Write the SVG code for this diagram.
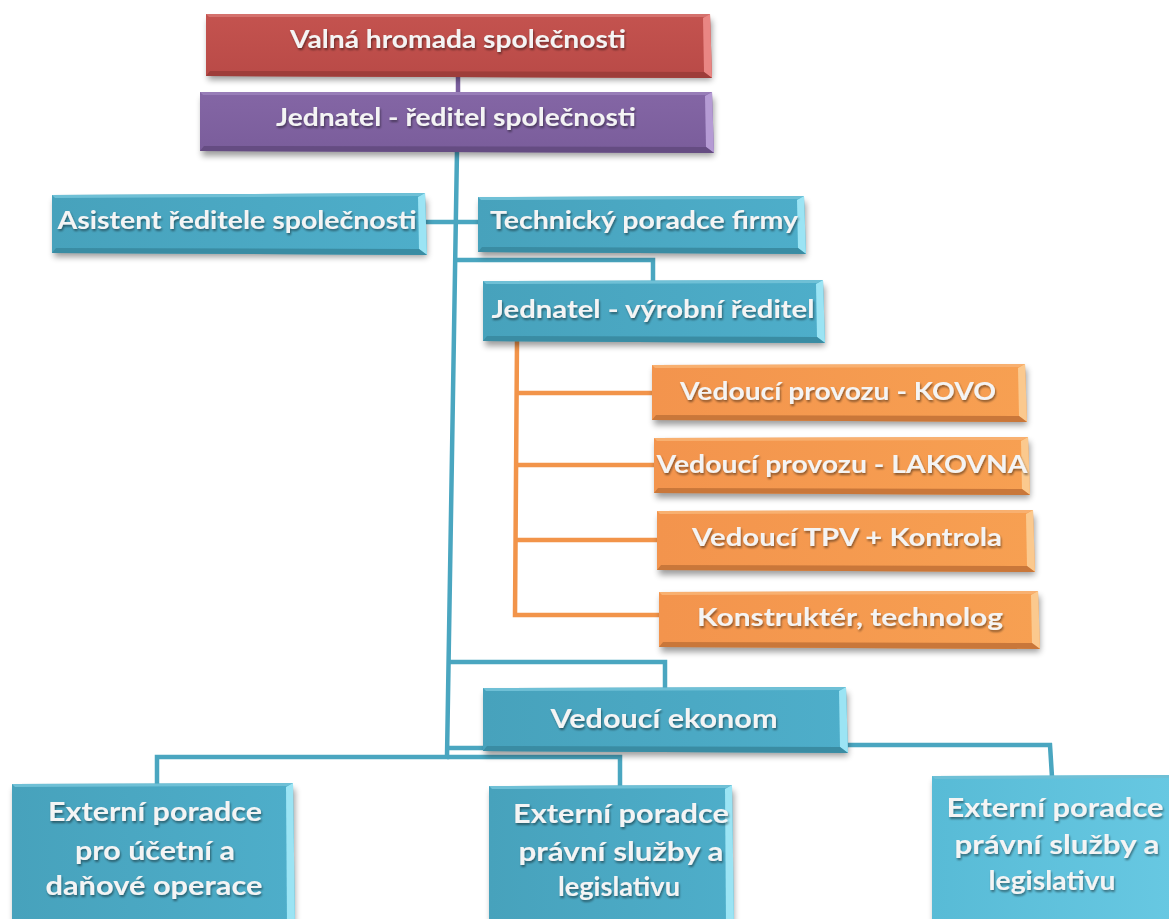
<svg xmlns="http://www.w3.org/2000/svg" width="1169" height="919" viewBox="0 0 1169 919">
  <defs>
    <filter id="shadow" x="-10%" y="-30%" width="120%" height="170%">
      <feGaussianBlur stdDeviation="3"/>
    </filter>
    <filter id="tshadow" x="-5%" y="-30%" width="110%" height="160%">
      <feGaussianBlur in="SourceAlpha" stdDeviation="1"/>
      <feOffset dx="1" dy="1.5" result="o"/>
      <feComponentTransfer><feFuncA type="linear" slope="0.45"/></feComponentTransfer>
      <feMerge><feMergeNode/><feMergeNode in="SourceGraphic"/></feMerge>
    </filter>
    <linearGradient id="gRed" x1="0" y1="0" x2="0" y2="1">
      <stop offset="0" stop-color="#C4534F"/><stop offset="1" stop-color="#B94A47"/>
    </linearGradient>
    <linearGradient id="gPurple" x1="0" y1="0" x2="0" y2="1">
      <stop offset="0" stop-color="#8466A5"/><stop offset="1" stop-color="#7A5D9B"/>
    </linearGradient>
    <linearGradient id="gTeal" x1="0" y1="0" x2="1" y2="0">
      <stop offset="0" stop-color="#47A2BC"/><stop offset="1" stop-color="#4EAECA"/>
    </linearGradient>
    <linearGradient id="gOrange" x1="0" y1="0" x2="1" y2="0">
      <stop offset="0" stop-color="#F3944D"/><stop offset="1" stop-color="#F7A052"/>
    </linearGradient>
    <linearGradient id="gTealR" x1="0" y1="0" x2="1" y2="0">
      <stop offset="0" stop-color="#58BBD6"/><stop offset="1" stop-color="#67C8E2"/>
    </linearGradient>
  </defs>
  <style>
    .shd { fill: #000; opacity: 0.38; filter: url(#shadow); }
    .red { fill: url(#gRed); }
    .purple { fill: url(#gPurple); }
    .teal { fill: url(#gTeal); }
    .tealR { fill: url(#gTealR); }
    .orange { fill: url(#gOrange); }
    .hiR { fill: #E98683; }
    .hiP { fill: #B59BD4; }
    .hiT { fill: #9BE4F4; }
    .hiO { fill: #FBC98E; }
    .loR { fill: #9E3D3A; }
    .loP { fill: #654C82; }
    .loT { fill: #3A8CA3; }
    .loO { fill: #C9773A; }
    .topR { fill: #D4716D; }
    .topP { fill: #987DB8; }
    .topT { fill: #6FC0D6; }
    .topO { fill: #F8B070; }
    .lbl { font-family: Lato, "Open Sans", "Liberation Sans", sans-serif; font-weight: 700; fill: #F4F4F4; text-anchor: middle; filter: url(#tshadow); }
    .s24 { font-size: 24px; }
    .s25 { font-size: 25px; }
    .s26 { font-size: 26px; }
    .conT { stroke: #4AA6C0; stroke-width: 4.5; fill: none; }
    .conP { stroke: #7B5F9E; stroke-width: 4.5; fill: none; }
    .conO { stroke: #F2944A; stroke-width: 4.5; fill: none; }
  </style>

  <rect width="1169" height="919" fill="#FFFFFF"/>

  <!-- connector lines -->
  <g id="connectors">
    <line class="conP" x1="458" y1="74" x2="458" y2="94"/>
    <polyline class="conT" points="457,150 447,757 157,757 157,785"/>
    <polyline class="conT" points="447,757 620,757 620,787"/>
    <line class="conT" x1="425" y1="222" x2="480" y2="222"/>
    <polyline class="conT" points="455,260 653,260 653,282"/>
    <polyline class="conT" points="450,662 665,662 665,689"/>
    <line class="conT" x1="447" y1="748" x2="485" y2="748"/>
    <polyline class="conT" points="846,745 1050,745 1052,777"/>
    <polyline class="conO" points="517,340 515,615 661,615"/>
    <line class="conO" x1="517" y1="393" x2="654" y2="393"/>
    <line class="conO" x1="516" y1="465" x2="656" y2="465"/>
    <line class="conO" x1="516" y1="540" x2="659" y2="540"/>
  </g>

  <g id="valna-hromada">
    <rect class="shd" x="208" y="20" width="504" height="60"/>
    <polygon class="red" points="206,14 710,14 712,78 206,76"/>
    <polygon class="topR" points="206,14 710,14 705,17 209,17"/>
    <polygon class="hiR" points="703,18 710,14 712,78 704,72"/>
    <polygon class="loR" points="206,76 712,78 704,72 210,71"/>
    <text class="lbl s24" x="458" y="48" textLength="336" lengthAdjust="spacingAndGlyphs">Valná hromada společnosti</text>
  </g>

  <g id="jednatel-reditel">
    <rect class="shd" x="202" y="98" width="512" height="58"/>
    <polygon class="purple" points="200,92 712,92 714,153 200,151"/>
    <polygon class="topP" points="200,92 712,92 706,95 203,95"/>
    <polygon class="hiP" points="705,96 712,92 714,153 706,147"/>
    <polygon class="loP" points="200,151 714,153 706,147 204,146"/>
    <text class="lbl s24" x="456" y="126" textLength="360" lengthAdjust="spacingAndGlyphs">Jednatel - ředitel společnosti</text>
  </g>

  <g id="asistent">
    <rect class="shd" x="54" y="200" width="373" height="57"/>
    <polygon class="teal" points="52,195 425,193 427,255 52,253"/>
    <polygon class="topT" points="52,195 425,193 419,196 55,198"/>
    <polygon class="hiT" points="418,197 425,193 427,255 419,249"/>
    <polygon class="loT" points="52,253 427,255 419,249 56,248"/>
    <text class="lbl s25" x="237" y="229" textLength="359" lengthAdjust="spacingAndGlyphs">Asistent ředitele společnosti</text>
  </g>

  <g id="technicky-poradce">
    <rect class="shd" x="480" y="202" width="326" height="55"/>
    <polygon class="teal" points="478,197 804,196 806,254 478,252"/>
    <polygon class="topT" points="478,197 804,196 798,199 481,200"/>
    <polygon class="hiT" points="797,200 804,196 806,254 798,248"/>
    <polygon class="loT" points="478,252 806,254 798,248 482,247"/>
    <text class="lbl s25" x="644" y="229" textLength="308" lengthAdjust="spacingAndGlyphs">Technický poradce firmy</text>
  </g>

  <g id="vyrobni-reditel">
    <rect class="shd" x="485" y="286" width="340" height="60"/>
    <polygon class="teal" points="483,281 823,280 825,343 483,341"/>
    <polygon class="topT" points="483,281 823,280 817,283 486,284"/>
    <polygon class="hiT" points="816,284 823,280 825,343 817,337"/>
    <polygon class="loT" points="483,341 825,343 817,337 487,336"/>
    <text class="lbl s25" x="653" y="318" textLength="323" lengthAdjust="spacingAndGlyphs">Jednatel - výrobní ředitel</text>
  </g>

  <g id="vedouci-kovo">
    <rect class="shd" x="654" y="369" width="373" height="56"/>
    <polygon class="orange" points="652,365 1025,364 1027,422 652,420"/>
    <polygon class="topO" points="652,365 1025,364 1019,367 655,368"/>
    <polygon class="hiO" points="1018,368 1025,364 1027,422 1019,416"/>
    <polygon class="loO" points="652,420 1027,422 1019,416 656,415"/>
    <text class="lbl s25" x="838" y="400" textLength="316" lengthAdjust="spacingAndGlyphs">Vedoucí provozu - KOVO</text>
  </g>

  <g id="vedouci-lakovna">
    <rect class="shd" x="656" y="442" width="374" height="56"/>
    <polygon class="orange" points="654,438 1028,437 1030,495 654,493"/>
    <polygon class="topO" points="654,438 1028,437 1022,440 657,441"/>
    <polygon class="hiO" points="1021,441 1028,437 1030,495 1022,489"/>
    <polygon class="loO" points="654,493 1030,495 1022,489 658,488"/>
    <text class="lbl s25" x="842" y="473" textLength="371" lengthAdjust="spacingAndGlyphs">Vedoucí provozu - LAKOVNA</text>
  </g>

  <g id="vedouci-tpv">
    <rect class="shd" x="659" y="516" width="376" height="59"/>
    <polygon class="orange" points="657,511 1033,510 1035,572 657,570"/>
    <polygon class="topO" points="657,511 1033,510 1027,513 660,514"/>
    <polygon class="hiO" points="1026,514 1033,510 1035,572 1027,566"/>
    <polygon class="loO" points="657,570 1035,572 1027,566 661,565"/>
    <text class="lbl s25" x="847" y="546" textLength="310" lengthAdjust="spacingAndGlyphs">Vedoucí TPV + Kontrola</text>
  </g>

  <g id="konstrukter">
    <rect class="shd" x="661" y="596" width="379" height="56"/>
    <polygon class="orange" points="659,592 1038,591 1040,649 659,647"/>
    <polygon class="topO" points="659,592 1038,591 1032,594 662,595"/>
    <polygon class="hiO" points="1031,595 1038,591 1040,649 1032,643"/>
    <polygon class="loO" points="659,647 1040,649 1032,643 663,642"/>
    <text class="lbl s25" x="850" y="626" textLength="306" lengthAdjust="spacingAndGlyphs">Konstruktér, technolog</text>
  </g>

  <g id="vedouci-ekonom">
    <rect class="shd" x="485" y="693" width="363" height="63"/>
    <polygon class="teal" points="483,688 846,687 848,753 483,751"/>
    <polygon class="topT" points="483,688 846,687 840,690 486,691"/>
    <polygon class="hiT" points="839,691 846,687 848,753 840,747"/>
    <polygon class="loT" points="483,751 848,753 840,747 487,746"/>
    <text class="lbl s26" x="664" y="728" textLength="227" lengthAdjust="spacingAndGlyphs">Vedoucí ekonom</text>
  </g>

  <g id="externi-ucetni">
    <rect class="shd" x="14" y="789" width="281" height="140"/>
    <polygon class="teal" points="12,784 293,783 295,925 12,925"/>
    <polygon class="topT" points="12,784 293,783 287,786 15,787"/>
    <polygon class="hiT" points="286,787 293,783 295,925 287,925"/>
    <text class="lbl s26" x="155" y="821" textLength="214" lengthAdjust="spacingAndGlyphs">Externí poradce</text>
    <text class="lbl s26" x="155" y="860" textLength="160" lengthAdjust="spacingAndGlyphs">pro účetní a</text>
    <text class="lbl s26" x="154" y="895" textLength="217" lengthAdjust="spacingAndGlyphs">daňové operace</text>
  </g>

  <g id="externi-pravni-1">
    <rect class="shd" x="491" y="791" width="243" height="140"/>
    <polygon class="teal" points="489,786 732,785 734,925 489,925"/>
    <polygon class="topT" points="489,786 732,785 726,788 492,789"/>
    <polygon class="hiT" points="725,789 732,785 734,925 726,925"/>
    <text class="lbl s26" x="621" y="823" textLength="216" lengthAdjust="spacingAndGlyphs">Externí poradce</text>
    <text class="lbl s26" x="621" y="861" textLength="205" lengthAdjust="spacingAndGlyphs">právní služby a</text>
    <text class="lbl s26" x="619" y="896" textLength="122" lengthAdjust="spacingAndGlyphs">legislativu</text>
  </g>

  <g id="externi-pravni-2">
    <rect class="shd" x="934" y="781" width="240" height="150"/>
    <polygon class="tealR" points="932,776 1172,775 1172,925 932,925"/>
    <polygon class="topT" points="932,776 1172,775 1172,778 935,779"/>
    <text class="lbl s26" x="1055" y="817" textLength="217" lengthAdjust="spacingAndGlyphs">Externí poradce</text>
    <text class="lbl s26" x="1057" y="854" textLength="205" lengthAdjust="spacingAndGlyphs">právní služby a</text>
    <text class="lbl s26" x="1052" y="890" textLength="127" lengthAdjust="spacingAndGlyphs">legislativu</text>
  </g>
</svg>
